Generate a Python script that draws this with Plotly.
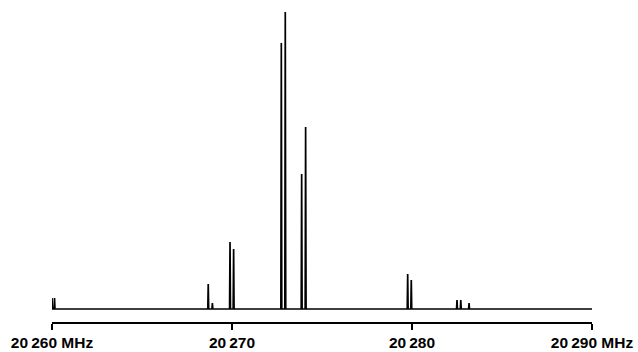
import plotly.graph_objects as go

# Spectrum peaks (frequency in MHz, relative intensity)
peak_freqs = [20260.00, 20260.14, 20268.68, 20268.91, 20269.89, 20270.09,
              20272.74, 20272.96, 20273.87, 20274.09, 20279.76, 20279.96,
              20282.50, 20282.71, 20283.17]
peak_heights = [11, 11, 25, 6, 67, 60,
                266, 297, 135, 182, 35, 29,
                9, 9, 6]

tick_vals = [20260, 20270, 20280, 20290]
tick_text = ["<b>20\u2009260 MHz</b>", "<b>20\u2009270</b>", "<b>20\u2009280</b>", "<b>20\u2009290 MHz</b>"]

start_f, end_f = 20259.85, 20290.0
half_width = 0.025

xs, ys = [start_f], [0]
for f, h in sorted(zip(peak_freqs, peak_heights)):
    xs += [f - half_width, f, f + half_width]
    ys += [0, h, 0]
xs.append(end_f)
ys.append(0)

fig = go.Figure(go.Scatter(x=xs, y=ys, mode="lines",
                           line=dict(color="black", width=1.7),
                           hoverinfo="skip", cliponaxis=False))

fig.update_layout(
    width=638, height=352,
    margin=dict(l=52, r=46, t=10, b=30, autoexpand=False),
    paper_bgcolor="white", plot_bgcolor="white",
    showlegend=False,
    font=dict(family="Liberation Sans, Arial, sans-serif", size=15.5, color="black"),
    xaxis=dict(range=[20260, 20290], showgrid=False, zeroline=False,
               automargin=False,
               showline=True, linecolor="black", linewidth=1.5,
               ticks="outside", ticklen=6, tickwidth=1.5, tickcolor="black",
               ticklabelstandoff=0,
               tickvals=tick_vals, ticktext=tick_text,
               tickfont=dict(size=15.5, family="Liberation Sans, Arial, sans-serif"),
               fixedrange=True),
    yaxis=dict(range=[-13, 299], visible=False, fixedrange=True),
)

fig.write_html("out.html", config={"displayModeBar": False},
               post_script="document.body.style.margin='0';document.body.style.overflow='hidden';")
